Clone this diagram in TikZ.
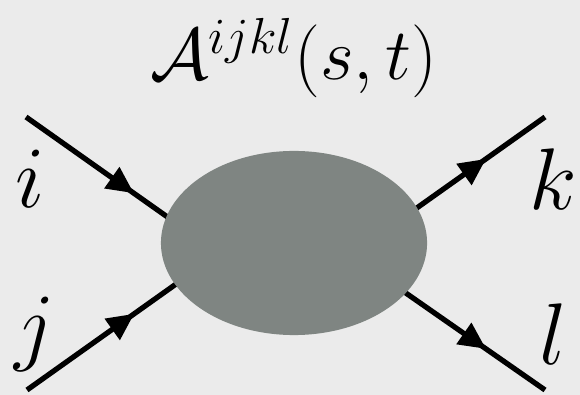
\documentclass[tikz,border=0pt]{standalone}
\usepackage{amsmath, amssymb}
\usepackage{tikz}
\usetikzlibrary{arrows.meta, positioning, shapes.geometric, decorations.markings}
\usepackage{xcolor}

\definecolor{bgGray}{HTML}{EBEBEB}
\definecolor{blobGray}{HTML}{7F8582}

\begin{document}
\begin{tikzpicture}[
        x=0.01cm, y=-0.01cm,
        >=Triangle,
        leg/.style={draw=black, line width=1.5pt, postaction={decorate},
            decoration={markings, mark=at position 0.62 with {\arrow{Triangle[length=0.27cm, width=0.25cm]}}}},
        blob/.style={ellipse, fill=blobGray, inner sep=0pt, minimum width=2.66cm, minimum height=1.84cm},
        idx/.style={anchor=base, inner sep=0pt, font=\fontsize{27}{32}\selectfont}
    ]

        % fondo
        \fill[bgGray] (0,0) rectangle (580,395);
        \useasboundingbox (0,0) rectangle (580,395);

        % ================= PATAS EXTERNAS =================
        \coordinate (pi) at (26,117);
        \coordinate (ei) at (200,240);
        \coordinate (pj) at (27,390);
        \coordinate (ej) at (200,267);
        \coordinate (pk) at (545,117);
        \coordinate (ek) at (390,227);
        \coordinate (pl) at (545,390);
        \coordinate (el) at (390,282);

        \path[leg] (pi) -- (ei);
        \path[leg] (pj) -- (ej);
        \path[leg] (ek) -- (pk);
        \path[leg] (el) -- (pl);

        % ================= VERTICE =================
        \node[blob] (amp) at (294,243) {};

        % Etiquetas
        \node[anchor=base, inner sep=0pt, font=\huge] (title) at (294,80) {$\mathcal{A}^{ijkl}(s,t)$};
        \node[idx] (li) at (30,208) {$i$};
        \node[idx] (lj) at (35,355) {$j$};
        \node[idx] (lk) at (553,210) {$k$};
        \node[idx] (ll) at (553,364) {$l$};

    \end{tikzpicture}
\end{document}
